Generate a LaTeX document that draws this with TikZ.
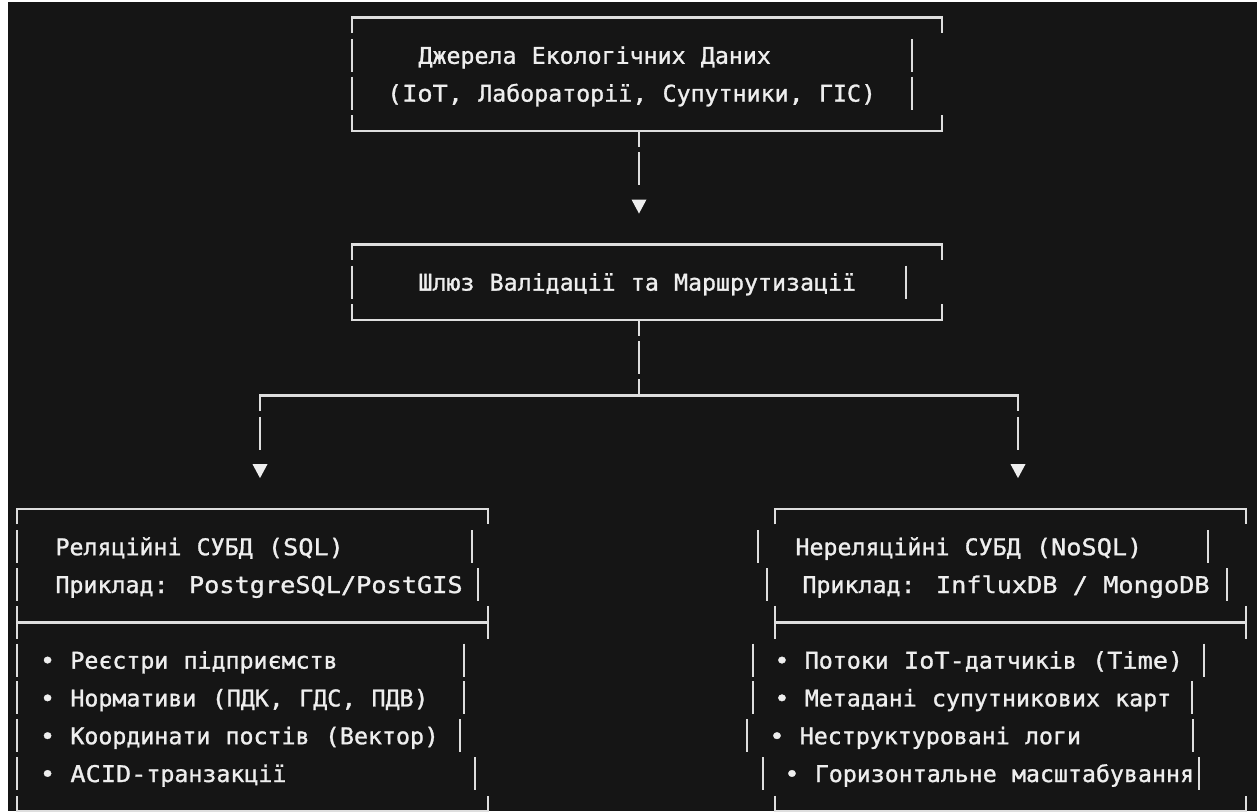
\documentclass[tikz,border=0pt]{standalone}
\usepackage{fontspec}
\newfontfamily\latf{DejaVu Sans Mono}[FakeStretch=1.098,FakeBold=1.2]
\newfontfamily\cyrf{DejaVu Sans Mono}[FakeStretch=1.011,FakeBold=1.2]
\newcommand\C[1]{{\cyrf #1}}
\definecolor{bgc}{RGB}{21,21,21}
\definecolor{fgc}{RGB}{238,238,238}
\definecolor{lnc}{RGB}{222,222,222}
% vertical bar of one text row: x, row centre
\newcommand\VB[2]{\draw[ln] (#1,{#2-16.5}) -- (#1,{#2+16.5});}
% box top edge: x left, x right, row centre
\newcommand\BT[3]{\draw[ln] (#1,{#3+15.5}) -- (#1,#3) -- (#2,#3) -- (#2,{#3+15.5});}
% box bottom edge
\newcommand\BB[3]{\draw[ln] (#1,{#3-15.5}) -- (#1,#3) -- (#2,#3) -- (#2,{#3-15.5});}
% separator row
\newcommand\SEP[3]{\draw[ln] (#1,{#3-16.5}) -- (#1,{#3+16.5}); \draw[ln] (#2,{#3-16.5}) -- (#2,{#3+16.5}); \draw[ln] (#1,#3) -- (#2,#3);}
\begin{document}
\begin{tikzpicture}[x=0.5pt,y=-0.5pt,
  ln/.style={draw=lnc, line width=1.3pt, line join=miter},
  txt/.style={anchor=base west, inner sep=0pt, outer sep=0pt, text=fgc,
              font={\latf\fontsize{11.5pt}{13pt}\selectfont}},
  tipc/.style={fill=fgc, draw=none}]
\useasboundingbox (0,0) rectangle (1260,811);
\fill[white] (0,0) rectangle (1260,811);
\fill[bgc] (8,2) rectangle (1257,811);

% ---------- source box ----------
\BT{352}{942}{17.5}
\VB{352}{55.3}\VB{912}{55.3}
\VB{352}{93.1}\VB{912}{93.1}
\BB{352}{942}{130.9}
\node[txt] (t1) at (418.5,63.8) {\C{Джерела} \C{Екологічних} \C{Даних}};
\node[txt] (t2) at (387,101.6) {(IoT, \C{Лабораторії}, \C{Супутники}, \C{ГІС})};

% ---------- gateway box ----------
\BT{352}{942}{244.3}
\VB{352}{282.1}\VB{906}{282.1}
\BB{352}{942}{319.9}
\node[txt] (t3) at (418.5,290.6) {\C{Шлюз} \C{Валідації} \C{та} \C{Маршрутизації}};

% ---------- connector source -> gateway ----------
\coordinate (s1) at (639,130.9);
\coordinate (s1e) at (639,147.4);
\coordinate (s2) at (639,152.2);
\coordinate (s2e) at (639,185.2);
\coordinate (a1) at (639,206.5);
\draw[ln] (s1) -- (s1e);
\draw[ln] (s2) -- (s2e);
\fill[tipc] ([shift={(-7.5,-7)}]a1) -- ([shift={(7.5,-7)}]a1) -- ([shift={(0,7)}]a1) -- cycle;

% ---------- connector gateway -> branches ----------
\coordinate (g1) at (639,319.9);
\coordinate (g1e) at (639,336.4);
\coordinate (g2) at (639,341.2);
\coordinate (g2e) at (639,374.2);
\coordinate (g3) at (639,379.0);
\coordinate (j) at (639,395.5);
\coordinate (bl) at (260,395.5);
\coordinate (br) at (1018,395.5);
\coordinate (bl1) at (260,411.0);
\coordinate (br1) at (1018,411.0);
\coordinate (bl2) at (260,416.8);
\coordinate (bl2e) at (260,449.8);
\coordinate (br2) at (1018,416.8);
\coordinate (br2e) at (1018,449.8);
\coordinate (a2) at (260,471.1);
\coordinate (a3) at (1018,471.1);
\draw[ln] (g1) -- (g1e);
\draw[ln] (g2) -- (g2e);
\draw[ln] (g3) -- (j);
\draw[ln] (bl1) -- (bl) -- (br) -- (br1);
\draw[ln] (bl2) -- (bl2e);
\draw[ln] (br2) -- (br2e);
\fill[tipc] ([shift={(-7.5,-7)}]a2) -- ([shift={(7.5,-7)}]a2) -- ([shift={(0,7)}]a2) -- cycle;
\fill[tipc] ([shift={(-7.5,-7)}]a3) -- ([shift={(7.5,-7)}]a3) -- ([shift={(0,7)}]a3) -- cycle;

% ---------- relational box ----------
\BT{17}{488}{508.9}
\VB{17}{546.7}\VB{472}{546.7}
\VB{17}{584.5}\VB{478}{584.5}
\SEP{17}{488}{622.3}
\VB{17}{660.1}\VB{464}{660.1}
\VB{17}{697.9}\VB{464}{697.9}
\VB{17}{735.7}\VB{460}{735.7}
\VB{17}{773.5}\VB{475}{773.5}
\BB{17}{488}{811.3}
\node[txt] (t4) at (55.5,555.2) {\C{Реляційні} \C{СУБД} (SQL)};
\node[txt] (t5) at (55.5,593.0) {\C{Приклад}: PostgreSQL/PostGIS};
\node[txt] (t6) at (40,668.6) {• \C{Реєстри} \C{підприємств}};
\node[txt] (t7) at (40,706.4) {• \C{Нормативи} (\C{ПДК}, \C{ГДС}, \C{ПДВ})};
\node[txt] (t8) at (40,744.2) {• \C{Координати} \C{постів} (\C{Вектор})};
\node[txt] (t9) at (40,782.0) {• ACID-\C{транзакції}};

% ---------- non-relational box ----------
\BT{775}{1246}{508.9}
\VB{758}{546.7}\VB{1208}{546.7}
\VB{767}{584.5}\VB{1227}{584.5}
\SEP{775}{1246}{622.3}
\VB{753}{660.1}\VB{1204}{660.1}
\VB{753}{697.9}\VB{1192}{697.9}
\VB{747}{735.7}\VB{1193}{735.7}
\VB{763}{773.5}\VB{1199}{773.5}
\BB{775}{1246}{811.3}
\node[txt] (t10) at (795.5,555.2) {\C{Нереляційні} \C{СУБД} (NoSQL)};
\node[txt] (t11) at (802.5,593.0) {\C{Приклад}: InfluxDB / MongoDB};
\node[txt] (t12) at (774.4,668.6) {• \C{Потоки} IoT-\C{датчиків} (Time)};
\node[txt] (t13) at (774.4,706.4) {• \C{Метадані} \C{супутникових} \C{карт}};
\node[txt] (t14) at (769.4,744.2) {• \C{Неструктуровані} \C{логи}};
\node[txt] (t15) at (784.4,782.0) {• \C{Горизонтальне} \C{масштабування}};
\end{tikzpicture}
\end{document}
